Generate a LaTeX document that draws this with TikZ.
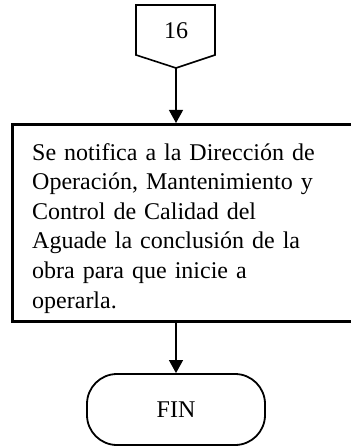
\documentclass[tikz,border=0pt]{standalone}
\usepackage{fontspec}
\setmainfont{Liberation Serif}
\usetikzlibrary{arrows.meta}
\tikzset{
  shapeline/.style={draw=black, line width=1.6pt},
  procbox/.style={draw=black, line width=2.6pt, rectangle, inner sep=0pt},
  bodytext/.style={font=\fontsize{24}{29.6}\selectfont, align=left, inner sep=0pt, text width=318pt},
  labeltext/.style={font=\fontsize{24}{28}\selectfont, inner sep=0pt},
  terminal/.style={draw=black, line width=1.8pt, rectangle, rounded corners=30pt, minimum width=178pt, minimum height=71pt, font=\fontsize{24}{28}\selectfont},
  flowarrow/.style={draw=black, line width=1.2pt, -{Triangle[width=14pt,length=13pt]}}
}
\begin{document}
\begin{tikzpicture}[x=1pt,y=-1pt]
\useasboundingbox (0,0) rectangle (350,446);
% off-page connector
\draw[shapeline, line join=miter] (136,5) -- (215,5) -- (215,55) -- (176,68) -- (136,55) -- cycle;
\node[labeltext] (c16) at (176,31) {16};
\coordinate (c16tip) at (176,68);
% process box
\node[procbox, minimum width=341pt, minimum height=197pt, anchor=north west] (proc) at (11,123) {};
\node[bodytext, anchor=north west] (proctext) at (32,143) {Se notifica a la Dirección de\\Operación, Mantenimiento y\\Control de Calidad del\\Aguade la conclusión de la\\obra para que inicie a\\operarla.};
% terminal
\node[terminal] (fin) at (176,409.5) {FIN};
% connectors
\draw[flowarrow] (c16tip) -- (c16tip |- proc.north);
\draw[flowarrow] (proc.south -| fin.north) -- (fin.north);
\end{tikzpicture}
\end{document}
